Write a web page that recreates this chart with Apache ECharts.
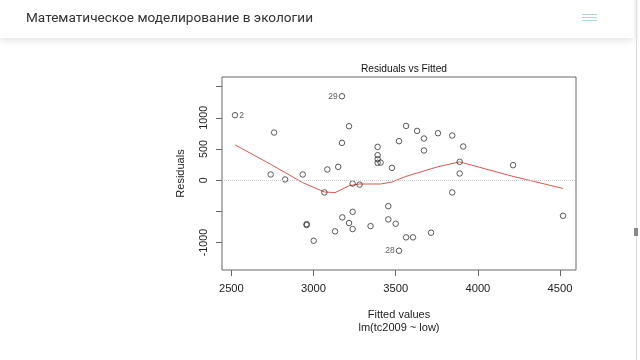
<!DOCTYPE html>
<html><head><meta charset="utf-8">
<script src="https://cdn.jsdelivr.net/npm/echarts@6/dist/echarts.min.js"></script>
<style>html,body{margin:0;padding:0;background:#fff;overflow:hidden}#c{width:640px;height:360px}</style>
</head><body><div id="c"></div>
<script>
// Residuals vs Fitted data
const fitted = [2522, 2760, 2739, 2827, 2934, 3084, 3150, 3173, 3216, 3173,
  3390, 3390, 3390, 3390, 3408, 3477, 3520, 3563, 3630, 3672,
  3672, 3757, 3844, 3238, 3280, 3911, 3889, 3889, 4214, 3066,
  2958, 2958, 3001, 3131, 3175, 3216, 3238, 3238, 3347, 3455,
  3455, 3500, 3563, 3605, 3715, 3520, 3844, 4518];
const residuals = [1042, 764, 91, 11, 91, 171, 213, 1346, 865, 598,
  534, 401, 337, 277, 282, 197, 625, 870, 790, 668,
  476, 753, 716, -55, -72, 540, 293, 107, 240, -197,
  -705, -721, -972, -822, -598, -689, -508, -785, -737, -417,
  -630, -700, -918, -918, -844, -1133, -197, -572];
const labelIndex = [0, 7, 45];
const labelText = ['2', '29', '28'];
const labelSide = ['right', 'left', 'left'];
// smoother (red line)
const smoothX = [2522, 2739, 2934, 3066, 3131, 3216, 3280, 3408, 3477, 3563, 3757, 3889, 4214, 4518];
const smoothY = [566, 255, -40, -190, -200, -90, -62, -62, -30, 60, 215, 293, 60, -133];
// ticks
const xTicks = [2500, 3000, 3500, 4000, 4500];
const yTicks = [-1000, -500, 0, 500, 1000, 1500];
const yTickLabels = [-1000, 0, 500, 1000];

const pts = fitted.map((x, i) => {
  const k = labelIndex.indexOf(i);
  const item = { value: [x, residuals[i]] };
  if (k >= 0) {
    item.label = { show: true, formatter: labelText[k], position: labelSide[k], distance: 1,
      fontSize: 8.5, color: '#333', fontFamily: 'Liberation Sans' };
  }
  return item;
});

const font = 'Liberation Sans';
const plain = v => String(v);
const chart = echarts.init(document.getElementById('c'));
chart.setOption({
  animation: false,
  backgroundColor: '#fff',
  title: {
    text: 'Residuals vs Fitted', left: 399, top: 59, textAlign: 'center',
    textStyle: { fontFamily: font, fontSize: 10.2, fontWeight: 'normal', color: '#111' }
  },
  grid: { left: 222, right: 64, top: 77, bottom: 90, show: true, borderColor: '#666', borderWidth: 1, backgroundColor: 'transparent' },
  xAxis: {
    type: 'value', min: 2443, max: 4597,
    axisLine: { show: false, onZero: false },
    splitLine: { show: false },
    axisTick: { show: true, customValues: xTicks, length: 6, lineStyle: { color: '#666' } },
    axisLabel: { customValues: xTicks, formatter: plain, margin: 13, fontFamily: font, fontSize: 11.2, color: '#222' },
    name: 'Fitted values\nlm(tc2009 ~ low)', nameLocation: 'middle', nameGap: 38,
    nameTextStyle: { fontFamily: font, fontSize: 11, color: '#222', lineHeight: 13 }
  },
  yAxis: {
    type: 'value', min: -1442, max: 1655,
    axisLine: { show: false, onZero: false },
    splitLine: { show: false },
    axisTick: { show: true, customValues: yTicks, length: 6, lineStyle: { color: '#666' } },
    axisLabel: { customValues: yTickLabels, formatter: plain, rotate: 90, margin: 12, fontFamily: font, fontSize: 10.8, color: '#222' },
    name: 'Residuals', nameLocation: 'middle', nameGap: 36, nameRotate: 90,
    nameTextStyle: { fontFamily: font, fontSize: 11, color: '#222' }
  },
  series: [
    {
      type: 'line', data: smoothX.map((x, i) => [x, smoothY[i]]), showSymbol: false, symbol: 'none',
      lineStyle: { color: '#d65a50', width: 1 }, z: 3,
      markLine: { silent: true, symbol: 'none', label: { show: false },
        lineStyle: { color: '#cfcfcf', type: 'dotted', width: 1 }, data: [{ yAxis: 0 }] }
    },
    {
      type: 'scatter', data: pts, symbol: 'circle', symbolSize: 5.5,
      itemStyle: { color: 'rgba(255,255,255,0)', borderColor: '#333', borderWidth: 1 }, z: 4
    }
  ],
  graphic: [
    { type: 'rect', shape: { x: 0, y: -5, width: 634, height: 43 }, style: { fill: '#fff', shadowBlur: 8, shadowColor: 'rgba(0,0,0,0.12)', shadowOffsetY: 2 }, z: 10 },
    { type: 'text', x: 26, y: 19, style: { text: 'Математическое моделирование в экологии', font: '13.6px Roboto', fill: '#333', textVerticalAlign: 'middle' }, z: 11 },
    { type: 'line', shape: { x1: 582, y1: 14.5, x2: 597, y2: 14.5 }, style: { stroke: '#a9d9d6', lineWidth: 1 }, z: 11 },
    { type: 'line', shape: { x1: 582, y1: 17.5, x2: 597, y2: 17.5 }, style: { stroke: '#a9d9d6', lineWidth: 1 }, z: 11 },
    { type: 'line', shape: { x1: 582, y1: 20.5, x2: 597, y2: 20.5 }, style: { stroke: '#a9d9d6', lineWidth: 1 }, z: 11 },
    { type: 'line', shape: { x1: 636.5, y1: 0, x2: 636.5, y2: 360 }, style: { stroke: '#dcdcdc', lineWidth: 1 }, z: 11 },
    { type: 'rect', shape: { x: 634, y: 228, width: 4, height: 8 }, style: { fill: '#888' }, z: 11 }
  ]
});
</script></body></html>
